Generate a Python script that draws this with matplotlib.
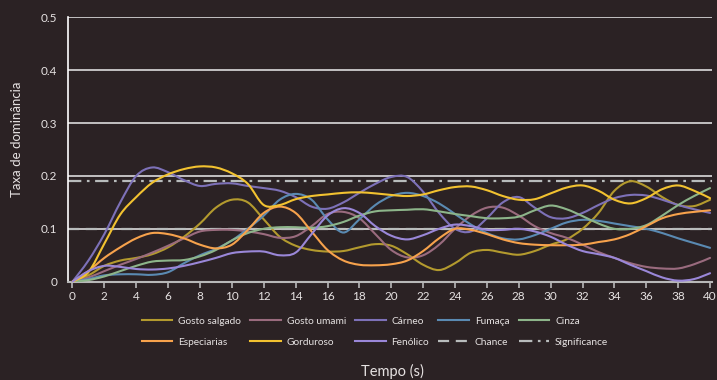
import numpy as np
import matplotlib
matplotlib.use("Agg")
import matplotlib.pyplot as plt
from matplotlib.path import Path
from matplotlib.patches import PathPatch
from matplotlib.lines import Line2D

plt.rcParams['font.family'] = ['Lato', 'DejaVu Sans']

# time in seconds
tempo = list(range(0, 41))

gosto_salgado = [0, 0.012, 0.03, 0.04, 0.045, 0.052, 0.065, 0.085, 0.11, 0.14,
                 0.155, 0.15, 0.118, 0.085, 0.068, 0.06, 0.057, 0.058, 0.065, 0.071,
                 0.068, 0.052, 0.032, 0.022, 0.035, 0.055, 0.06, 0.055, 0.051, 0.058,
                 0.07, 0.08, 0.1, 0.13, 0.172, 0.19, 0.18, 0.16, 0.145, 0.143, 0.155]
gosto_umami = [0, 0.008, 0.02, 0.032, 0.043, 0.055, 0.068, 0.082, 0.095, 0.098,
               0.098, 0.095, 0.09, 0.083, 0.086, 0.105, 0.128, 0.132, 0.12, 0.09,
               0.06, 0.046, 0.05, 0.07, 0.1, 0.125, 0.14, 0.14, 0.125, 0.105,
               0.092, 0.083, 0.07, 0.056, 0.045, 0.035, 0.028, 0.025, 0.025, 0.033, 0.045]
carneo = [0, 0.04, 0.09, 0.15, 0.2, 0.216, 0.207, 0.192, 0.181, 0.185,
          0.186, 0.181, 0.177, 0.172, 0.16, 0.142, 0.138, 0.15, 0.168, 0.185,
          0.198, 0.198, 0.17, 0.13, 0.1, 0.095, 0.12, 0.15, 0.16, 0.14,
          0.122, 0.12, 0.13, 0.145, 0.158, 0.164, 0.163, 0.155, 0.145, 0.137, 0.13]
fumaca = [0, 0.005, 0.012, 0.014, 0.014, 0.013, 0.018, 0.035, 0.05, 0.062,
          0.078, 0.1, 0.125, 0.155, 0.166, 0.155, 0.118, 0.093, 0.118, 0.145,
          0.162, 0.168, 0.162, 0.148, 0.128, 0.108, 0.092, 0.082, 0.08, 0.088,
          0.1, 0.112, 0.117, 0.115, 0.11, 0.105, 0.1, 0.092, 0.082, 0.073, 0.064]
cinza = [0, 0.003, 0.01, 0.02, 0.03, 0.038, 0.04, 0.041, 0.048, 0.06,
         0.078, 0.092, 0.1, 0.103, 0.103, 0.102, 0.105, 0.113, 0.125, 0.133,
         0.135, 0.136, 0.137, 0.133, 0.128, 0.124, 0.12, 0.12, 0.123, 0.135,
         0.144, 0.137, 0.124, 0.11, 0.1, 0.1, 0.107, 0.125, 0.145, 0.162, 0.177]
especiarias = [0, 0.02, 0.045, 0.065, 0.082, 0.092, 0.09, 0.082, 0.07, 0.063,
               0.07, 0.098, 0.13, 0.142, 0.13, 0.095, 0.06, 0.04, 0.032, 0.031,
               0.033, 0.04, 0.058, 0.082, 0.1, 0.098, 0.09, 0.08, 0.073, 0.07,
               0.069, 0.069, 0.07, 0.075, 0.08, 0.09, 0.105, 0.12, 0.128, 0.132, 0.135]
gorduroso = [0, 0.018, 0.072, 0.127, 0.16, 0.187, 0.203, 0.213, 0.218, 0.216,
             0.205, 0.185, 0.145, 0.145, 0.156, 0.162, 0.165, 0.168, 0.169, 0.167,
             0.164, 0.162, 0.165, 0.173, 0.179, 0.18, 0.173, 0.162, 0.155, 0.156,
             0.167, 0.178, 0.182, 0.172, 0.155, 0.148, 0.158, 0.175, 0.182, 0.172, 0.158]
fenolico = [0, 0.02, 0.03, 0.028, 0.024, 0.023, 0.025, 0.03, 0.037, 0.045,
            0.054, 0.057, 0.057, 0.05, 0.055, 0.09, 0.125, 0.139, 0.13, 0.105,
            0.087, 0.08, 0.088, 0.1, 0.108, 0.105, 0.098, 0.098, 0.1, 0.095,
            0.085, 0.07, 0.058, 0.052, 0.045, 0.032, 0.02, 0.008, 0.002, 0.005, 0.016]

chance = 0.1
significance = 0.19

series = [
    ("Gosto salgado", gosto_salgado, "#b39a2e"),
    ("Gosto umami", gosto_umami, "#9a6b7e"),
    ("Cárneo", carneo, "#7d71b8"),
    ("Fumaça", fumaca, "#5a8ab2"),
    ("Cinza", cinza, "#8db58a"),
    ("Especiarias", especiarias, "#f7a24c"),
    ("Gorduroso", gorduroso, "#f2c230"),
    ("Fenólico", fenolico, "#9a87d8"),
]

bg = "#2b2224"
txt = "#e6e2e2"


def smooth_path(x, y):
    # catmull-rom through the points, written as cubic bezier segments
    x = np.asarray(x, float)
    y = np.asarray(y, float)
    xp = np.concatenate([[x[0]], x, [x[-1]]])
    yp = np.concatenate([[y[0]], y, [y[-1]]])
    verts = [(x[0], y[0])]
    codes = [Path.MOVETO]
    for i in range(1, len(xp) - 2):
        c1 = (xp[i] + (xp[i + 1] - xp[i - 1]) / 6, yp[i] + (yp[i + 1] - yp[i - 1]) / 6)
        c2 = (xp[i + 1] - (xp[i + 2] - xp[i]) / 6, yp[i + 1] - (yp[i + 2] - yp[i]) / 6)
        verts += [c1, c2, (xp[i + 1], yp[i + 1])]
        codes += [Path.CURVE4] * 3
    return Path(verts, codes)


fig = plt.figure(figsize=(7.17, 3.8), dpi=100, facecolor=bg)
ax = fig.add_axes([0.0955, 0.2587, 0.8975, 0.6958], facecolor=bg)

for yv in [0.1, 0.2, 0.3, 0.4, 0.5]:
    ax.axhline(yv, color="#dcdcdc", lw=1.2, zorder=1)

handles = []
for name, vals, col in series:
    ax.add_patch(PathPatch(smooth_path(tempo, vals), facecolor="none",
                           edgecolor=col, lw=1.5, zorder=3, capstyle="round"))
    handles.append(Line2D([], [], color=col, lw=1.5, label=name))

dash = (0, (5, 3))
dashdot = (0, (6, 2.5, 1.2, 2.5))
ax.axhline(chance, color="#b8bcbc", lw=1.6, ls=dash, zorder=2)
ax.axhline(significance, color="#b8bcbc", lw=1.6, ls=dashdot, zorder=2)
handles.append(Line2D([], [], color="#b8bcbc", lw=1.6, ls=dash, label="Chance"))
handles.append(Line2D([], [], color="#b8bcbc", lw=1.6, ls=dashdot, label="Significance"))

ax.set_xlim(-0.25, 40.12)
ax.set_ylim(0, 0.5)
ax.set_xticks(range(0, 41, 2))
ax.set_yticks([0, 0.1, 0.2, 0.3, 0.4, 0.5])
ax.set_yticklabels(["0", "0.1", "0.2", "0.3", "0.4", "0.5"])

for s in ["top", "right"]:
    ax.spines[s].set_visible(False)
ax.spines["left"].set_color("white")
ax.spines["left"].set_linewidth(1.2)
ax.spines["bottom"].set_color("#b8b8b8")
ax.spines["bottom"].set_linewidth(1.5)
ax.tick_params(axis="x", colors="#b8b8b8", length=4, width=1.2, labelcolor=txt,
               labelsize=8.5, pad=2.5)
ax.tick_params(axis="y", length=0, labelcolor=txt, labelsize=8.5, pad=8)

fig.text(0.0237, 0.633, "Taxa de dominância", rotation=90, ha="center", va="center",
         color=txt, fontsize=9.5)
fig.text(0.547, 0.022, "Tempo (s)", ha="center", va="center", color=txt, fontsize=10.5)

order = [0, 5, 1, 6, 2, 7, 3, 8, 4, 9]
fig.legend([handles[i] for i in order], [handles[i].get_label() for i in order],
           ncol=5, loc="center", bbox_to_anchor=(0.523, 0.127), frameon=False,
           fontsize=7.3, labelcolor=txt, handlelength=3.0, handletextpad=0.6,
           columnspacing=0.9, labelspacing=1.15)

fig.savefig("out.png", dpi=100, facecolor=bg)
